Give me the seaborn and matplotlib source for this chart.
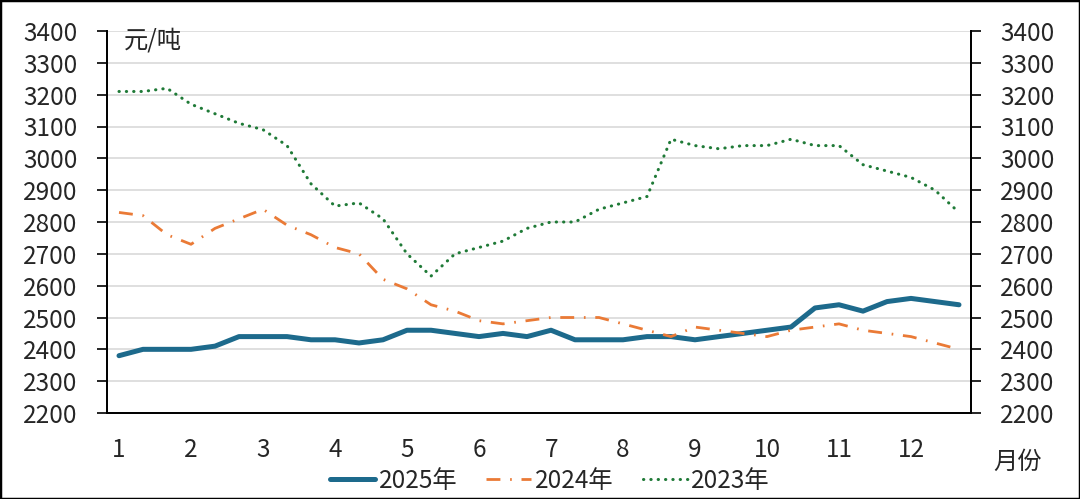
import numpy as np
import pandas as pd
import matplotlib
matplotlib.use("Agg")
import matplotlib.pyplot as plt
from matplotlib.lines import Line2D
from matplotlib.patches import Rectangle
import seaborn as sns

# ten-day price points, 3 per month
months = [str(m) for m in range(1, 13)]
price_2025 = [2380, 2400, 2400, 2400, 2410, 2440, 2440, 2440, 2430, 2430, 2420, 2430,
              2460, 2460, 2450, 2440, 2450, 2440, 2460, 2430, 2430, 2430, 2440, 2440,
              2430, 2440, 2450, 2460, 2470, 2530, 2540, 2520, 2550, 2560, 2550, 2540]
price_2024 = [2830, 2820, 2760, 2730, 2780, 2810, 2840, 2790, 2760, 2720, 2700, 2620,
              2590, 2540, 2520, 2490, 2480, 2490, 2500, 2500, 2500, 2480, 2460, 2440,
              2470, 2460, 2450, 2440, 2460, 2470, 2480, 2460, 2450, 2440, 2420, 2400]
price_2023 = [3210, 3210, 3220, 3170, 3140, 3110, 3090, 3040, 2920, 2850, 2860, 2810,
              2700, 2630, 2700, 2720, 2740, 2780, 2800, 2800, 2840, 2860, 2880, 3060,
              3040, 3030, 3040, 3040, 3060, 3040, 3040, 2980, 2960, 2940, 2900, 2830]
series_names = ["2025年", "2024年", "2023年"]
y_ticks = list(range(2200, 3401, 100))

c_blue = "#1d6a8c"
c_orange = "#ea7a36"
c_green = "#1f7a37"
fs = 17.5

sns.set_theme(style="white")
plt.rcParams["font.family"] = ["Noto Sans CJK SC", "DejaVu Sans"]

idx = np.arange(len(price_2025))
df = pd.DataFrame({"idx": idx, "2025年": price_2025, "2024年": price_2024, "2023年": price_2023})

fig = plt.figure(figsize=(10.8, 4.99), dpi=100)
ax = fig.add_axes([107 / 1080, 1 - 413 / 499, 864 / 1080, 382 / 499])

sns.lineplot(data=df, x="idx", y="2025年", ax=ax, color=c_blue, lw=3.6,
             solid_capstyle="round", solid_joinstyle="round")
sns.lineplot(data=df, x="idx", y="2024年", ax=ax, color=c_orange, lw=2.0)
ax.lines[-1].set_dashes((5, 3.5, 0.6, 3.5))
sns.lineplot(data=df, x="idx", y="2023年", ax=ax, color=c_green, lw=2.2)
ax.lines[-1].set_dashes((0.1, 2.3))
ax.lines[-1].set_dash_capstyle("round")

ax.set_xlim(-0.5, len(idx) - 0.5)
ax.set_ylim(2200, 3400)
ax.set_yticks(y_ticks)
ax.set_xticks(np.arange(0, 36, 3))
ax.set_xticklabels(months)
ax.set_xticks(np.arange(-0.5, 36, 1), minor=True)
ax.tick_params(axis="x", which="major", length=0, labelsize=fs, pad=17)
ax.tick_params(axis="x", which="minor", length=8, width=1.2, color="black", direction="out")
ax.tick_params(axis="y", length=7, width=1.2, color="black", labelsize=fs, direction="out", pad=14)
ax.set_xlabel("")
ax.set_ylabel("")
ax.yaxis.grid(True, color="#d9d9d9", lw=1.2)
for s in ["left", "bottom", "right"]:
    ax.spines[s].set_color("black")
    ax.spines[s].set_linewidth(1.3)
ax.spines["top"].set_visible(False)

ax2 = ax.twinx()
ax2.set_ylim(2200, 3400)
ax2.set_yticks(y_ticks)
ax2.tick_params(axis="y", length=7, width=1.2, color="black", labelsize=fs, direction="out", pad=14)
for s in ["left", "bottom", "right"]:
    ax2.spines[s].set_color("black")
    ax2.spines[s].set_linewidth(1.3)
ax2.spines["top"].set_visible(False)

fig.text(153 / 1080, 1 - 40 / 499, "元/吨", fontsize=fs, ha="center", va="center")
fig.text(1018 / 1080, 1 - 462 / 499, "月份", fontsize=fs, ha="center", va="center")

handles = [
    Line2D([], [], color=c_blue, lw=3.6, solid_capstyle="round"),
    Line2D([], [], color=c_orange, lw=2.0, dashes=(5, 3.5, 0.6, 3.5)),
    Line2D([], [], color=c_green, lw=2.2, dashes=(0.1, 2.3), dash_capstyle="round"),
]
fig.legend(handles, series_names, loc="center", bbox_to_anchor=(550 / 1080, 1 - 481 / 499),
           ncol=3, frameon=False, fontsize=fs, handlelength=1.85, handletextpad=0.15,
           columnspacing=1.2, borderpad=0, borderaxespad=0)

fig.patches.append(Rectangle((0, 0), 1, 1, transform=fig.transFigure, fill=False,
                             edgecolor="black", lw=2.5))

fig.savefig("out.png", dpi=100)
